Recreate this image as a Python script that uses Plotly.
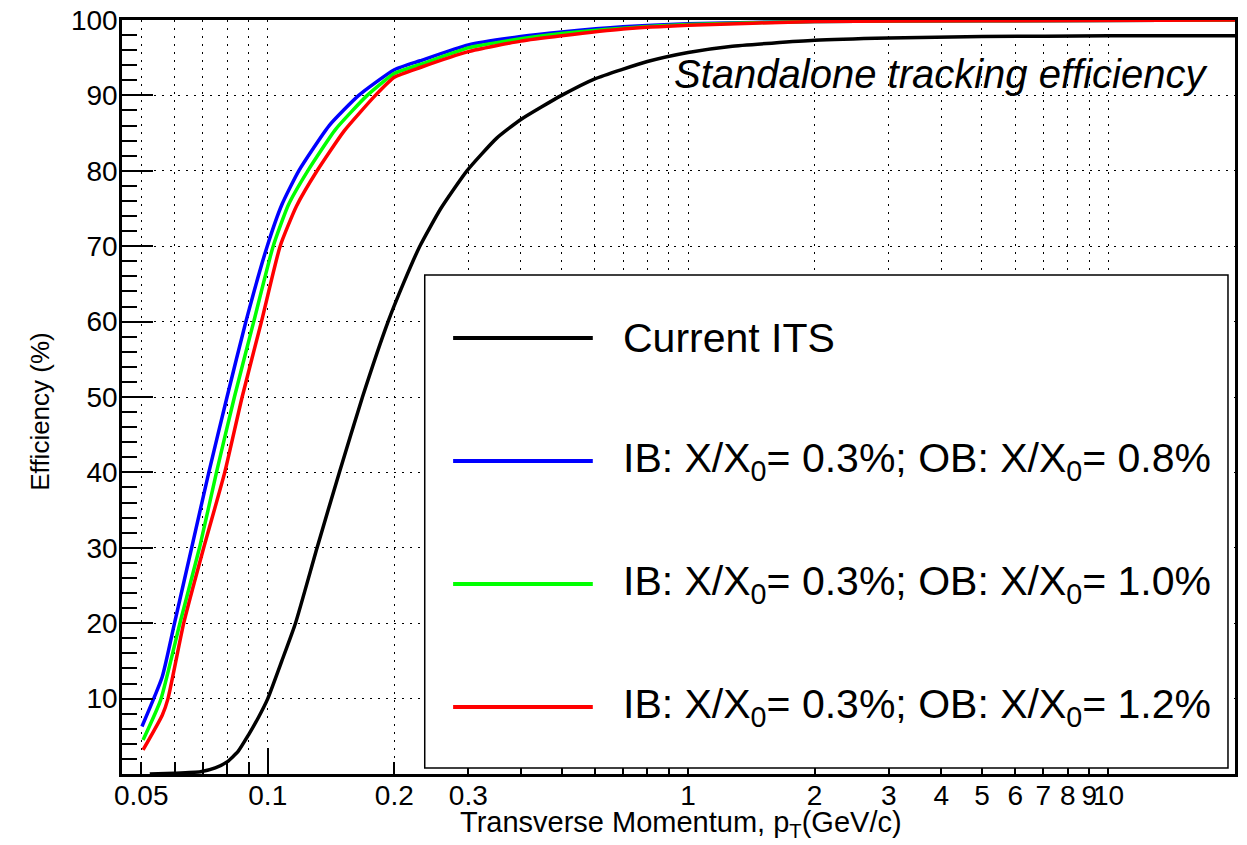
import math
import plotly.graph_objects as go

# ---------------- data ----------------
pt_current = [0.0524, 0.06, 0.0692, 0.075, 0.08, 0.085, 0.09, 0.095, 0.1, 0.108,
              0.1164, 0.131, 0.148, 0.168, 0.1933, 0.21, 0.23, 0.258, 0.2977, 0.35,
              0.4, 0.5, 0.6, 0.8, 1.0, 1.26, 2.0, 3.0, 5.0, 10.0, 20.0]
eff_current = [0.0, 0.1, 0.3, 0.8, 1.6, 3.0, 5.2, 7.5, 10.0, 15.0,
               20.0, 30.0, 40.0, 50.0, 60.0, 65.0, 70.0, 75.0, 80.0, 84.3,
               86.8, 90.0, 92.2, 94.5, 95.7, 96.5, 97.3, 97.6, 97.8, 97.9, 97.9]

pt_ob08 = [0.0502, 0.0561, 0.06, 0.0659, 0.0724, 0.08, 0.0887, 0.0997, 0.108, 0.1185,
           0.14, 0.1646, 0.2, 0.2306, 0.3, 0.4, 0.5, 0.7, 1.0, 2.0, 5.0, 20.0]
eff_ob08 = [6.3, 12.9, 20.0, 30.0, 40.0, 50.0, 60.0, 70.0, 75.5, 80.0,
            86.0, 90.0, 93.4, 94.6, 96.7, 97.8, 98.4, 99.1, 99.5, 99.8, 99.9, 100.0]

pt_ob10 = [0.0505, 0.0556, 0.0618, 0.0688, 0.0755, 0.0833, 0.0926, 0.103, 0.112, 0.1245,
           0.145, 0.1724, 0.2, 0.2306, 0.3, 0.4, 0.5, 0.7, 1.0, 2.0, 5.0, 20.0]
eff_ob10 = [4.5, 9.8, 20.0, 30.0, 40.0, 50.0, 60.0, 70.0, 75.5, 80.0,
            85.5, 90.0, 92.9, 94.1, 96.3, 97.5, 98.2, 98.9, 99.4, 99.8, 99.9, 100.0]

pt_ob12 = [0.0505, 0.0561, 0.0579, 0.0631, 0.0704, 0.079, 0.0869, 0.0966, 0.107, 0.117,
           0.131, 0.152, 0.1803, 0.2, 0.2306, 0.3, 0.4, 0.5, 0.7, 1.0, 2.0, 5.0, 20.0]
eff_ob12 = [3.2, 7.8, 10.0, 20.0, 30.0, 40.0, 50.0, 60.0, 70.0, 75.3,
            80.0, 85.3, 90.0, 92.4, 93.7, 95.8, 97.2, 97.9, 98.8, 99.3, 99.8, 99.9, 100.0]

series_names = [
    "Current ITS",
    "IB: X/X<sub>0</sub>= 0.3%; OB: X/X<sub>0</sub>= 0.8%",
    "IB: X/X<sub>0</sub>= 0.3%; OB: X/X<sub>0</sub>= 1.0%",
    "IB: X/X<sub>0</sub>= 0.3%; OB: X/X<sub>0</sub>= 1.2%",
]
series_x = [pt_current, pt_ob08, pt_ob10, pt_ob12]
series_y = [eff_current, eff_ob08, eff_ob10, eff_ob12]
series_colors = ["#000000", "#0000ff", "#00ff00", "#ff0000"]

x_tick_vals = [0.05, 0.1, 0.2, 0.3, 1, 2, 3, 4, 5, 6, 7, 8, 9, 10]
x_tick_text = ["0.05", "0.1", "0.2", "0.3", "1", "2", "3", "4", "5", "6", "7", "8", "9", "10"]
x_minor_vals = [0.06, 0.07, 0.08, 0.09, 0.4, 0.5, 0.6, 0.7, 0.8, 0.9, 20]
x_decade_vals = [0.1, 1, 10]
y_tick_vals = [10, 20, 30, 40, 50, 60, 70, 80, 90, 100]

x_min, x_max = 0.045, 20.0
y_min, y_max = 0.0, 100.0

FONT = "Liberation Sans, Arial, Helvetica, sans-serif"
GRID_DASH = "2px,6px"

fig = go.Figure()
for name, xs, ys, col in zip(series_names, series_x, series_y, series_colors):
    fig.add_trace(go.Scatter(x=xs, y=ys, mode="lines", name=name,
                             line=dict(color=col, width=3.5, shape="spline", smoothing=0.5),
                             showlegend=False))
# empty trace that activates the overlay axis used for the long decade ticks
fig.add_trace(go.Scatter(x=[], y=[], xaxis="x2", yaxis="y", showlegend=False, hoverinfo="skip"))

fig.update_layout(
    width=1247, height=845,
    margin=dict(l=122, r=12, t=20, b=71),
    paper_bgcolor="white", plot_bgcolor="white",
    font=dict(family=FONT, color="black"),
    showlegend=False,
    xaxis=dict(
        type="log", range=[math.log10(x_min), math.log10(x_max)], automargin=False,
        tickmode="array", tickvals=x_tick_vals, ticktext=x_tick_text,
        ticks="inside", ticklen=12, tickwidth=1.5, tickcolor="black",
        tickangle=0, tickfont=dict(size=28, family=FONT), ticklabelstandoff=-5,
        showline=True, linecolor="black", linewidth=2.5, mirror=True,
        showgrid=True, gridcolor="black", gridwidth=1.2, griddash=GRID_DASH,
        zeroline=False,
        minor=dict(tickmode="array", tickvals=x_minor_vals, ticks="inside",
                   ticklen=12, tickwidth=1.5, tickcolor="black",
                   showgrid=True, gridcolor="black", gridwidth=1.2, griddash=GRID_DASH),
    ),
    xaxis2=dict(
        type="log", range=[math.log10(x_min), math.log10(x_max)], overlaying="x",
        anchor="y", side="bottom", automargin=False,
        tickmode="array", tickvals=x_decade_vals, ticks="inside", ticklen=26,
        tickwidth=1.5, tickcolor="black", showticklabels=False,
        showgrid=False, showline=False, zeroline=False,
    ),
    yaxis=dict(
        range=[y_min, y_max], automargin=False,
        tickmode="array", tickvals=y_tick_vals,
        ticks="inside", ticklen=31, tickwidth=1.5, tickcolor="black",
        tickfont=dict(size=28, family=FONT), ticklabelstandoff=-4,
        showline=True, linecolor="black", linewidth=2.5, mirror=True,
        showgrid=True, gridcolor="black", gridwidth=1.2, griddash=GRID_DASH,
        zeroline=False,
        minor=dict(dtick=2, tick0=0, ticks="inside", ticklen=15, tickwidth=1.5,
                   tickcolor="black", showgrid=False),
    ),
)

annotations = [
    dict(text="Efficiency (%)", xref="paper", yref="paper", x=-0.074, y=0.48,
         textangle=-90, showarrow=False, xanchor="center", yanchor="middle",
         font=dict(size=26, family=FONT)),
    dict(text="Transverse Momentum, p<sub>T</sub>(GeV/c)", xref="paper", yref="paper",
         x=0.502, y=-0.066, showarrow=False, xanchor="center", yanchor="middle",
         font=dict(size=29, family=FONT)),
    dict(text="<i>Standalone tracking efficiency</i>", xref="paper", yref="paper",
         x=0.494, y=0.929, showarrow=False, xanchor="left", yanchor="middle",
         font=dict(size=40, family=FONT)),
]

# ---- hand-made ROOT style legend box ----
leg_x0, leg_x1, leg_y0, leg_y1 = 0.272, 0.9937, 0.008, 0.6618
sample_x0, sample_x1, text_x = 0.2975, 0.4230, 0.4485
row_top, row_step = 0.5782, 0.1631
shapes = [dict(type="rect", xref="paper", yref="paper", x0=leg_x0, x1=leg_x1,
               y0=leg_y0, y1=leg_y1, fillcolor="white",
               line=dict(color="black", width=1.5), layer="above")]
for i, (name, col) in enumerate(zip(series_names, series_colors)):
    yy = row_top - i * row_step
    shapes.append(dict(type="line", xref="paper", yref="paper", x0=sample_x0, x1=sample_x1,
                       y0=yy, y1=yy, line=dict(color=col, width=4), layer="above"))
    annotations.append(dict(text=name, xref="paper", yref="paper", x=text_x, y=yy,
                            xanchor="left", yanchor="middle", showarrow=False,
                            font=dict(size=41, family=FONT)))

fig.update_layout(shapes=shapes, annotations=annotations)
fig.write_html("out.html")
